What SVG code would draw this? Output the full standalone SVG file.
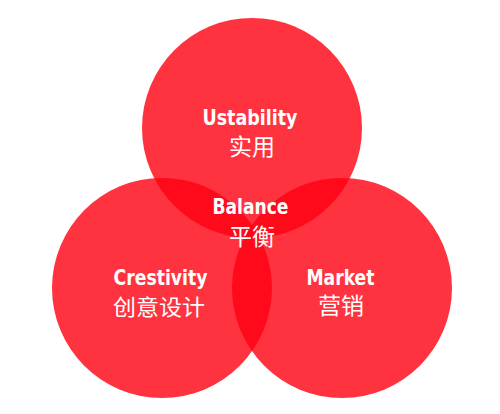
<svg xmlns="http://www.w3.org/2000/svg" width="500" height="414" viewBox="0 0 500 414">
  <style>
    .c { fill: #ff0010; fill-opacity: 0.8; }
    .en { font-family: "DejaVu Sans Condensed", "DejaVu Sans", sans-serif; font-weight: bold; font-size: 22px; fill: #ffffff; text-anchor: middle; }
    .zh { font-family: "Noto Sans CJK SC", sans-serif; font-size: 23px; fill: #ffffff; text-anchor: middle; }
  </style>
  <rect width="500" height="414" fill="#ffffff"/>
  <g id="usability">
    <circle class="c" cx="252" cy="128" r="110"/>
    <text class="en" x="250" y="125" textLength="95" lengthAdjust="spacingAndGlyphs">Ustability</text>
    <text class="zh" x="252" y="155">实用</text>
  </g>
  <g id="creativity">
    <circle class="c" cx="162" cy="288" r="110"/>
    <text class="en" x="160.5" y="285" textLength="94" lengthAdjust="spacingAndGlyphs">Crestivity</text>
    <text class="zh" x="159" y="315" style="font-size:22px" textLength="92" lengthAdjust="spacingAndGlyphs">创意设计</text>
  </g>
  <g id="market">
    <circle class="c" cx="342" cy="288" r="110"/>
    <text class="en" x="340.5" y="285" textLength="68" lengthAdjust="spacingAndGlyphs">Market</text>
    <text class="zh" x="341" y="314">营销</text>
  </g>
  <g id="balance">
    <text class="en" x="250.5" y="214" textLength="76" lengthAdjust="spacingAndGlyphs">Balance</text>
    <text class="zh" x="252" y="245">平衡</text>
  </g>
  <g id="connectors"/>
</svg>
